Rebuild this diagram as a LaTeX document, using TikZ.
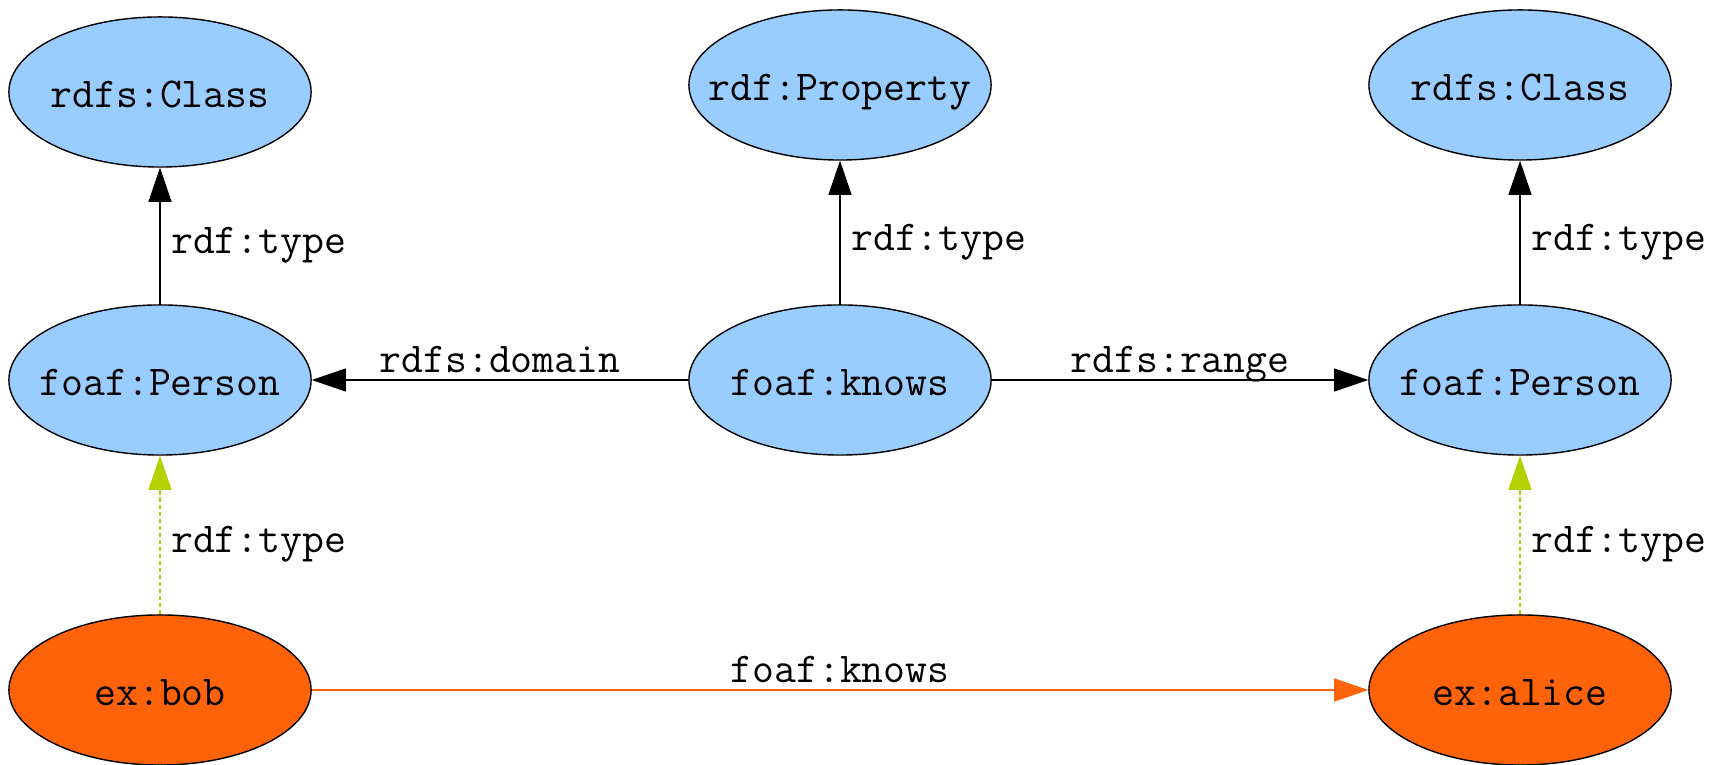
\documentclass[tikz,border=0pt]{standalone}
\usetikzlibrary{shapes.geometric, arrows.meta}
\definecolor{classblue}{HTML}{99CCFF}
\definecolor{instorange}{HTML}{FF6309}
\definecolor{typegreen}{HTML}{B3D100}
\tikzset{
	res/.style={ellipse, draw, line width=0.4pt, fill=classblue, minimum width=3.02cm, minimum height=1.5cm, inner xsep=-0.35cm, inner ysep=0pt, text height=8.8pt, text depth=0pt, font=\ttfamily\fontsize{12.1}{13}\selectfont},
	inst/.style={res, fill=instorange},
	lbl/.style={font=\ttfamily\fontsize{12.1}{13}\selectfont, text depth=0pt, inner sep=2pt},
	tip/.style={line width=0.35pt, -{Triangle[length=3.4mm, width=2.3mm]}},
}
\begin{document}
\begin{tikzpicture}[x=0.01cm, y=-0.01cm]
		\useasboundingbox (0,0) rectangle (1725,765);
		\node[res] (lclass) at (160,92) {rdfs:Class};
		\node[res] (prop) at (840,85) {rdf:Property};
		\node[res] (rclass) at (1520,85) {rdfs:Class};
		\node[res] (lperson) at (160,380) {foaf:Person};
		\node[res] (knows) at (840,380) {foaf:knows};
		\node[res] (rperson) at (1520,380) {foaf:Person};
		\node[inst] (bob) at (160,690) {ex:bob};
		\node[inst] (alice) at (1520,690) {ex:alice};
		\draw [tip] (lperson)--(lclass) node[lbl, midway, right=1pt, yshift=-0.045cm] {rdf:type};
		\draw [tip] (knows)--(prop) node[lbl, midway, right=1pt, yshift=-0.045cm] {rdf:type};
		\draw [tip] (rperson)--(rclass) node[lbl, midway, right=1pt, yshift=-0.045cm] {rdf:type};
		\draw [tip] (knows)--(lperson) node[lbl, midway, above] {rdfs:domain};
		\draw [tip] (knows)--(rperson) node[lbl, midway, above] {rdfs:range};
		\draw [tip, typegreen, dash pattern=on 1.2pt off 0.8pt] (bob)--(lperson) node[lbl, text=black, midway, right=1pt, yshift=-0.045cm] {rdf:type};
		\draw [tip, typegreen, dash pattern=on 1.2pt off 0.8pt] (alice)--(rperson) node[lbl, text=black, midway, right=1pt, yshift=-0.045cm] {rdf:type};
		\draw [tip, instorange] (bob)--(alice) node[lbl, text=black, midway, above] {foaf:knows};
	\end{tikzpicture}
\end{document}
